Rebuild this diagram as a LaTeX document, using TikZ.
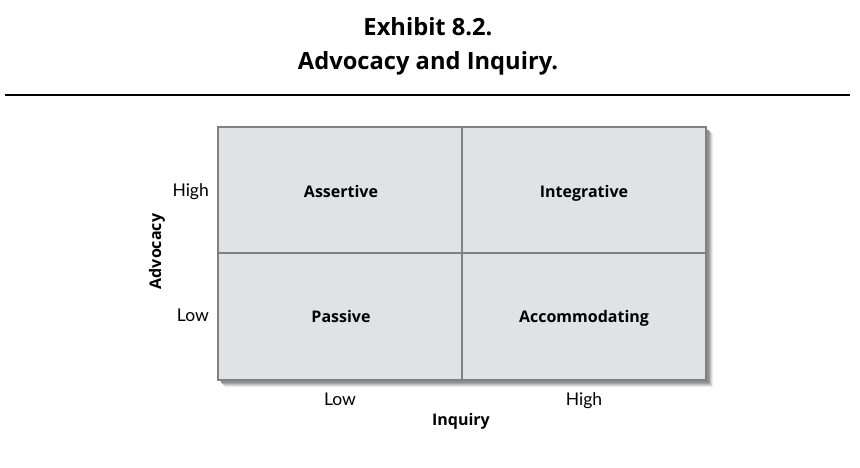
\documentclass[tikz,border=0pt]{standalone}
\usepackage{fontspec}
\setmainfont{Open Sans}
\newfontfamily\lab{Lato}
\begin{document}
\begin{tikzpicture}[x=1pt,y=-1pt,
  cell/.style={draw=none,anchor=base,font=\bfseries\fontsize{16}{19}\selectfont},
  axl/.style={anchor=base,inner sep=0pt,font=\lab\fontsize{17.5}{20}\selectfont},
  title/.style={anchor=base,font=\bfseries\fontsize{23.7}{28}\selectfont}]
\useasboundingbox (0,0) rectangle (860,468);
\node[title] (t1) at (428,36) {Exhibit 8.2.};
\node[title] (t2) at (428,70) {Advocacy and Inquiry.};
\draw[line width=2pt] (5,95) -- (850,95);
% shadow
\foreach \o/\c in {7/black!8,6/black!16,5/black!26,4/black!36,3/black!44}{
  \fill[\c] (218+\o,127+\o) rectangle (706+\o,380+\o);
}
\fill[fill={rgb,255:red,225;green,226;blue,228}] (218,127) rectangle (706,380);
\coordinate (tl) at (218,127);
\coordinate (br) at (706,380);
\draw[line width=2pt,draw={rgb,255:red,128;green,128;blue,128}]
  (tl) rectangle (br) (462,127) -- (462,380) (218,253) -- (706,253);
\node[cell] (as) at (341,197) {Assertive};
\node[cell] (in) at (584,197) {Integrative};
\node[cell] (pa) at (341,322) {Passive};
\node[cell] (ac) at (584,322) {Accommodating};
\node[axl,anchor=base east] (hi) at (209,196.5) {High};
\node[axl,anchor=base east] (lo) at (209,321.5) {Low};
\node[axl] (lo2) at (340,405) {Low};
\node[axl] (hi2) at (584,405) {High};
\node[cell] (iq) at (461,425) {Inquiry};
\node[cell,rotate=90,anchor=base] (ad) at (161,251.5) {Advocacy};
\end{tikzpicture}
\end{document}
